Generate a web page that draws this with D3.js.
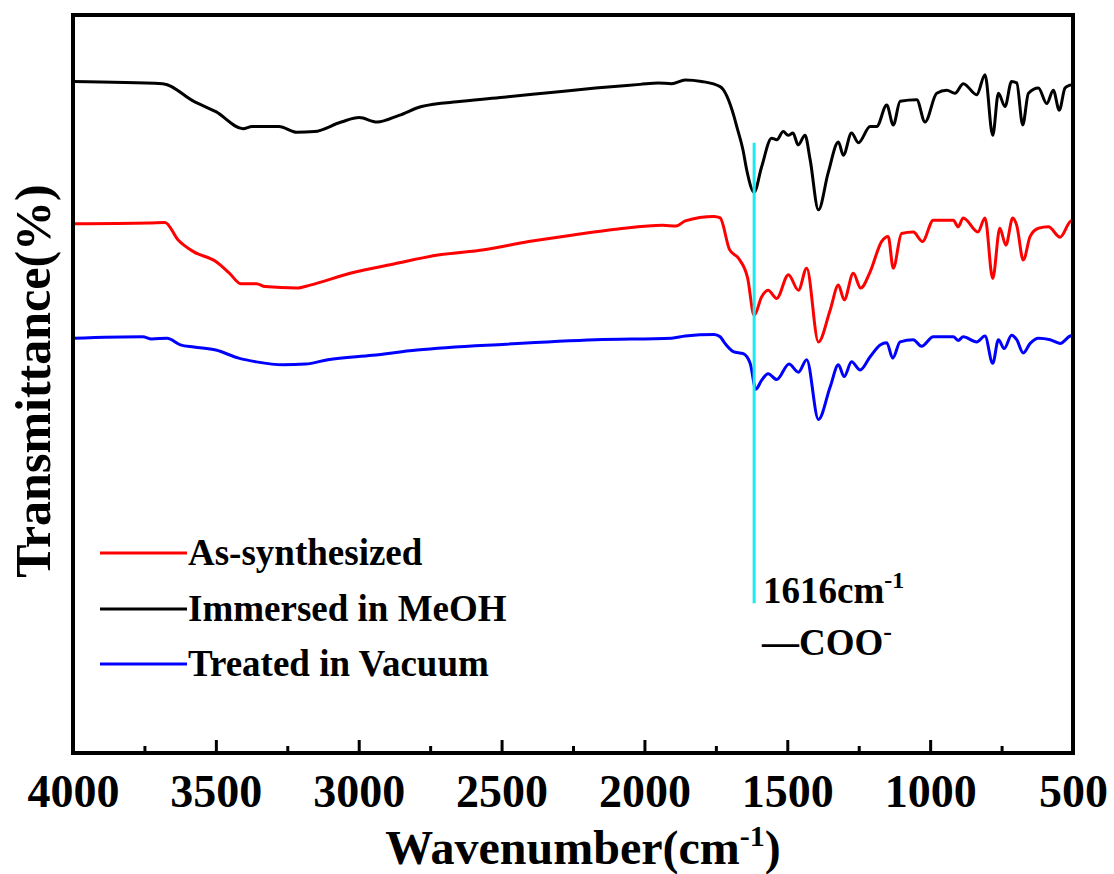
<!DOCTYPE html>
<html>
<head>
<meta charset="utf-8">
<script src="https://cdn.jsdelivr.net/npm/d3@7/dist/d3.min.js"></script>
<style>
  html, body { margin: 0; padding: 0; background: #fff; }
  svg { display: block; }
  text { font-family: "Liberation Serif", "Times New Roman", serif; font-weight: bold; fill: #000; }
</style>
</head>
<body>
<div id="chart"></div>
<script>
// ---------------- DATA ----------------
const seriesNames = ["As-synthesized", "Immersed in MeOH", "Treated in Vacuum"];
const seriesColors = ["#ff0000", "#000000", "#0000ff"];

const xTicksMajor = [4000, 3500, 3000, 2500, 2000, 1500, 1000, 500];
const xTicksMinor = [3750, 3250, 2750, 2250, 1750, 1250, 750];

// Immersed in MeOH (black)
const meohWN = [4000,3686,3577,3500,3405,3373,3279,3217,3155,3061,2998,2936,2859,2780,2639,2484,2327,2171,2015,1952,1905,1857,1800,1735,1686,1677,1655,1642,1616,1590,1555,1537,1514,1497,1480,1462,1438,1420,1391,1357,1321,1304,1275,1251,1210,1187,1152,1129,1105,1047,1018,977,942,913,884,837,808,781,761,738,715,697,676,656,621,592,569,548,528,510,500];
const meohT  = [91.0,90.7,88.3,86.9,84.6,84.9,84.9,84.1,84.2,85.5,86.1,85.5,86.4,87.6,88.3,88.9,89.5,90.1,90.6,90.8,90.7,91.2,91.0,90.3,86.2,84.9,81.7,79.0,76.0,79.4,83.3,83.1,84.2,83.7,84.0,82.4,83.7,80.4,73.6,78.6,82.8,81.0,84.0,82.7,84.9,84.9,87.8,85.1,88.3,88.5,85.5,89.4,89.8,89.4,90.7,89.2,91.9,83.7,89.4,87.6,91.0,90.8,85.1,89.4,90.1,88.0,89.8,87.1,90.1,90.5,90.6];

// As-synthesized (red)
const asSynWN = [4000,3734,3678,3632,3577,3500,3452,3413,3358,3328,3217,3170,3030,2874,2717,2561,2405,2249,2092,1936,1889,1857,1756,1735,1702,1670,1639,1616,1590,1567,1537,1496,1461,1432,1391,1350,1321,1301,1269,1243,1210,1170,1147,1129,1100,1059,1027,989,919,902,884,833,808,781,756,735,711,697,674,650,621,586,545,510,500];
const asSynT  = [71.7,71.8,71.9,69.5,67.9,66.6,65.0,63.6,63.6,63.2,63.0,63.4,65.0,66.3,67.5,68.2,69.3,70.2,71.0,71.5,71.4,72.1,72.7,72.5,68.2,67.0,64.4,59.3,61.8,62.7,61.6,64.8,62.7,65.7,55.7,60.0,63.4,61.4,65.0,63.0,65.2,69.3,70.0,65.7,70.4,70.6,69.3,72.2,72.2,71.3,72.5,70.6,72.5,64.3,71.1,68.8,72.5,71.5,66.8,70.0,71.1,71.3,69.9,72.0,72.2];

// Treated in Vacuum (blue)
const vacWN = [4000,3756,3725,3671,3624,3577,3500,3420,3358,3265,3186,3108,2952,2796,2484,2171,1905,1857,1756,1735,1718,1689,1654,1630,1610,1590,1567,1537,1494,1461,1432,1391,1350,1321,1301,1275,1245,1210,1175,1152,1131,1105,1059,1030,989,919,902,884,837,808,781,761,741,715,697,674,650,621,580,545,510,500];
const vacT  = [56.2,56.4,56.1,56.2,55.3,55.0,54.6,53.5,53.0,52.6,52.7,53.3,53.9,54.6,55.4,56.0,56.2,56.5,56.7,56.4,55.5,54.4,54.1,52.8,49.3,50.5,51.4,50.6,52.7,51.6,53.3,45.2,49.6,52.6,51.0,53.0,51.9,53.7,55.3,55.6,53.5,55.7,56.0,55.1,56.4,56.4,55.9,56.4,55.7,56.5,52.8,56.0,54.8,56.6,56.0,54.2,55.5,56.2,56.0,55.5,56.5,56.6];

// Annotation marker
const markerWN = 1616;
const markerRange = [82.7, 20.3];
const markerLabel = "1616cm";
const groupLabel = "\u2014COO";

// ---------------- CHART ----------------
const W = 1114, H = 874;
const m = { left: 73, right: 41, top: 15, bottom: 121 };

const svg = d3.select("#chart").append("svg").attr("width", W).attr("height", H);
svg.append("rect").attr("width", W).attr("height", H).attr("fill", "#fff");

const x = d3.scaleLinear().domain([4000, 500]).range([m.left, W - m.right]);
const y = d3.scaleLinear().domain([0, 100]).range([H - m.bottom, m.top]);

const series = [
  { name: seriesNames[0], color: seriesColors[0], wn: asSynWN, t: asSynT },
  { name: seriesNames[1], color: seriesColors[1], wn: meohWN, t: meohT },
  { name: seriesNames[2], color: seriesColors[2], wn: vacWN, t: vacT }
];

const line = d3.line()
  .x(d => x(d[0]))
  .y(d => y(d[1]))
  .curve(d3.curveMonotoneX);

const plot = svg.append("g");
svg.append("clipPath").attr("id", "clip").append("rect")
  .attr("x", m.left).attr("y", m.top).attr("width", W - m.left - m.right).attr("height", H - m.top - m.bottom);

[series[1], series[0], series[2]].forEach(s => {
  plot.append("path")
    .datum(s.wn.map((w, i) => [w, s.t[i]]))
    .attr("fill", "none")
    .attr("stroke", s.color)
    .attr("stroke-width", 3)
    .attr("stroke-linejoin", "round")
    .attr("clip-path", "url(#clip)")
    .attr("d", line);
});

// Marker line
plot.append("line")
  .attr("x1", x(markerWN)).attr("x2", x(markerWN))
  .attr("y1", y(markerRange[0])).attr("y2", y(markerRange[1]))
  .attr("stroke", "#1fe8ee").attr("stroke-width", 3);

// Bottom axis ticks (inward)
const xAxisMajor = d3.axisBottom(x).tickValues(xTicksMajor).tickSize(-13).tickPadding(26).tickFormat(d3.format("d"));
const gx = svg.append("g").attr("transform", `translate(0,${H - m.bottom})`).call(xAxisMajor);
gx.select(".domain").remove();
gx.selectAll(".tick line").attr("stroke", "#000").attr("stroke-width", 3);
gx.selectAll(".tick text").attr("font-size", 46).attr("font-family", "Liberation Serif").attr("font-weight", "bold").attr("fill", "#000").attr("dy", "0.61em");

const xAxisMinor = d3.axisBottom(x).tickValues(xTicksMinor).tickSize(-7).tickFormat("");
const gxm = svg.append("g").attr("transform", `translate(0,${H - m.bottom})`).call(xAxisMinor);
gxm.select(".domain").remove();
gxm.selectAll(".tick line").attr("stroke", "#000").attr("stroke-width", 3);

// Frame
svg.append("rect")
  .attr("x", m.left).attr("y", m.top)
  .attr("width", W - m.left - m.right).attr("height", H - m.top - m.bottom)
  .attr("fill", "none").attr("stroke", "#000").attr("stroke-width", 4);

// Axis titles
const xt = svg.append("text")
  .attr("x", 583).attr("y", 864)
  .attr("text-anchor", "middle").attr("font-size", 48);
xt.append("tspan").text("Wavenumber(cm");
xt.append("tspan").attr("font-size", 30).attr("dy", -18).text("-1");
xt.append("tspan").attr("dy", 18).text(")");

svg.append("text")
  .attr("transform", "translate(50,381) rotate(-90)")
  .attr("text-anchor", "middle").attr("font-size", 50)
  .text("Transmittance(%)");

// Legend
const legY = [553, 609, 664];
series.forEach((s, i) => {
  svg.append("line")
    .attr("x1", 100).attr("x2", 187)
    .attr("y1", legY[i]).attr("y2", legY[i])
    .attr("stroke", s.color).attr("stroke-width", 3);
  svg.append("text")
    .attr("x", 188).attr("y", legY[i] + 12)
    .attr("font-size", 37)
    .text(s.name);
});

// Annotation text
const a1 = svg.append("text").attr("x", 763).attr("y", 603).attr("font-size", 37);
a1.append("tspan").text(markerLabel);
a1.append("tspan").attr("font-size", 24).attr("dy", -15).text("-1");

const a2 = svg.append("text").attr("x", 762).attr("y", 655).attr("font-size", 37);
a2.append("tspan").text(groupLabel);
a2.append("tspan").attr("font-size", 26).attr("dy", -15).text("-");
</script>
</body>
</html>
